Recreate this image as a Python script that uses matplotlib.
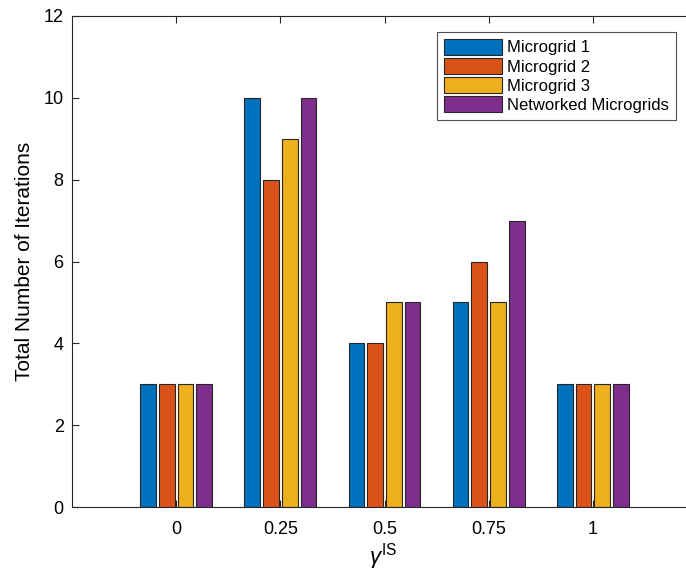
import numpy as np
import matplotlib
matplotlib.use("Agg")
import matplotlib.pyplot as plt

plt.rcParams['font.family'] = ['Liberation Sans', 'DejaVu Sans']
plt.rcParams['mathtext.fontset'] = 'custom'
plt.rcParams['mathtext.rm'] = 'Liberation Sans'
plt.rcParams['mathtext.it'] = 'Liberation Sans:italic'

gamma_labels = ['0', '0.25', '0.5', '0.75', '1']
series_names = ['Microgrid 1', 'Microgrid 2', 'Microgrid 3', 'Networked Microgrids']
mg1 = [3, 10, 4, 5, 3]
mg2 = [3, 8, 4, 6, 3]
mg3 = [3, 9, 5, 5, 3]
nmg = [3, 10, 5, 7, 3]
colors = ['#0072BD', '#D95319', '#EDB120', '#7E2F8E']

fig = plt.figure(figsize=(6.86, 5.72), dpi=100)
ax = fig.add_axes([72/686, 65/572, 625/686, 491/572])

x = np.arange(1, len(gamma_labels) + 1)
pitch = 0.18
width = 0.15
for i, (vals, c, name) in enumerate(zip([mg1, mg2, mg3, nmg], colors, series_names)):
    ax.bar(x + (i - 1.5)*pitch, vals, width, color=c, edgecolor='#262626',
           linewidth=0.8, label=name)

ax.set_xlim(0, 6)
ax.set_ylim(0, 12)
ax.set_xticks(x)
ax.set_xticklabels(gamma_labels)
ax.set_yticks(range(0, 13, 2))
ax.tick_params(direction='in', length=5, width=0.8, color='#262626',
               labelsize=13, top=True, right=True)
ax.tick_params(axis='x', pad=10)
ax.tick_params(axis='y', pad=6)
for s in ax.spines.values():
    s.set_color('#262626')
    s.set_linewidth(0.8)

ax.set_ylabel('Total Number of Iterations', fontsize=15)
ax.yaxis.set_label_coords(34/686, (572-261.5)/572, transform=fig.transFigure)
ax.set_xlabel(r'$\gamma^{\mathrm{IS}}$', fontsize=16)
ax.xaxis.set_label_coords(383/686, (572-564)/572, transform=fig.transFigure)
ax.xaxis.label.set_va('baseline')

leg = ax.legend(loc='upper left', fontsize=12,
                frameon=True, fancybox=False, edgecolor='#262626',
                handlelength=3.5, handleheight=1.1, handletextpad=0.3,
                labelspacing=0.15, borderpad=0.4, borderaxespad=0)
leg.set_bbox_to_anchor((437/686, 540/572), transform=fig.transFigure)
leg.get_frame().set_linewidth(0.8)

fig.savefig('out.png', dpi=100)
